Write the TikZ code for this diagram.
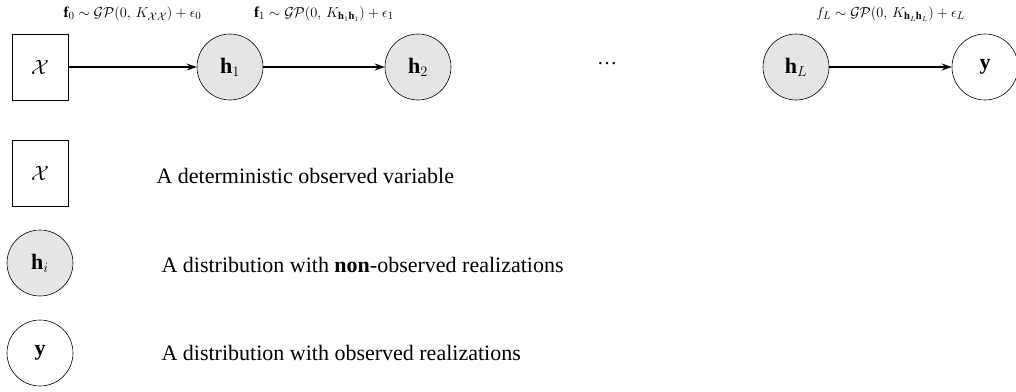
\documentclass[tikz,border=0pt]{standalone}
\usepackage{fontspec}
\setmainfont{Liberation Serif}
\usetikzlibrary{arrows.meta,positioning}

\tikzset{
  detnode/.style={draw,rectangle,line width=0.6pt,minimum width=56pt,minimum height=66pt,inner sep=0pt,font=\fontsize{22}{26}\selectfont},
  latnode/.style={draw,circle,line width=0.6pt,fill=black!10,minimum size=66pt,inner sep=0pt,font=\fontsize{22}{26}\selectfont},
  obsnode/.style={draw,circle,line width=0.6pt,fill=white,minimum size=66pt,inner sep=0pt,font=\fontsize{22}{26}\selectfont},
  gplabel/.style={font=\fontsize{15}{18}\selectfont},
  legtext/.style={anchor=west,font=\fontsize{22}{26}\selectfont},
}

\begin{document}
\begin{tikzpicture}[>={Stealth[length=10pt,width=7pt]},x=1pt,y=-1pt]
		\useasboundingbox (0,0) rectangle (1016,391);
		
		% chain of layers
		\node[detnode] (X) at (40,67) {$\mathcal{X}$};
		\node[latnode] (h1) at (230,67) {$\mathbf{h}_1$};
		\node[latnode] (h2) at (418,67) {$\mathbf{h}_2$};
		\node[font=\fontsize{20}{24}\selectfont] (dots) at (607,64) {\dots};
		\node[latnode] (hL) at (796,67) {$\mathbf{h}_L$};
		\node[obsnode] (y) at (985,67) {$\mathbf{y}$};
		
		\draw[->,line width=1.2pt] (X)--(h1) coordinate[midway] (m0);
		\draw[->,line width=1.2pt] (h1)--(h2) coordinate[midway] (m1);
		\draw[->,line width=1.2pt] (hL)--(y) coordinate[midway] (mL);
		
		\node[gplabel] (l0) at (m0|-0,14) {$\mathbf{f}_0 \sim \mathcal{GP}(0,\,K_{\mathcal{X}\mathcal{X}}) + \epsilon_0$};
		\node[gplabel] (l1) at (m1|-0,14) {$\mathbf{f}_1 \sim \mathcal{GP}(0,\,K_{\mathbf{h}_1\mathbf{h}_1}) + \epsilon_1$};
		\node[gplabel] (lL) at (mL|-0,14) {$f_L \sim \mathcal{GP}(0,\,K_{\mathbf{h}_L\mathbf{h}_L}) + \epsilon_L$};
		
		% legend
		\node[detnode] (kx) at (40,173) {$\mathcal{X}$};
		\node[latnode] (kh) at (40,263) {$\mathbf{h}_i$};
		\node[obsnode] (ky) at (40,353) {$\mathbf{y}$};
		\node[legtext] (tx) at (153,176) {A deterministic observed variable};
		\node[legtext] (th) at (158,265) {A distribution with \textbf{non}-observed realizations};
		\node[legtext] (ty) at (158,353) {A distribution with observed realizations};
	\end{tikzpicture}
\end{document}
